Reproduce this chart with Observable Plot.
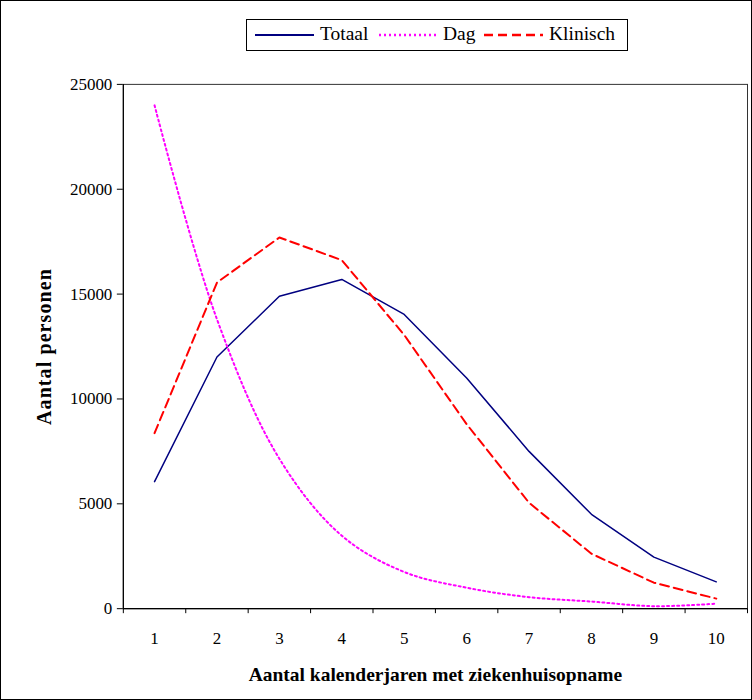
<!DOCTYPE html>
<html>
<head>
<meta charset="utf-8">
<script src="https://cdn.jsdelivr.net/npm/d3@7"></script>
<script src="https://cdn.jsdelivr.net/npm/@observablehq/plot@0.6"></script>
<style>
  html, body { margin: 0; padding: 0; background: #fff; }
  #wrap { position: relative; width: 752px; height: 700px; box-sizing: border-box; border: 1px solid #000; overflow: hidden; font-family: "Liberation Serif", "Times New Roman", serif; }
  #chart { position: absolute; left: -1px; top: -1px; }
  #legend { position: absolute; left: 245px; top: 18px; width: 382px; height: 32px; box-sizing: border-box; border: 1px solid #000; background: #fff; font-size: 19.5px; color: #000; }
  #legend .sample { position: absolute; top: 10px; display: block; }
  #legend .lbl { position: absolute; top: 2px; line-height: 24px; white-space: nowrap; }
</style>
</head>
<body>
<div id="wrap">
  <div id="chart"></div>
  <div id="legend"></div>
</div>
<script>
// Categories (x) and series values
const years = [1, 2, 3, 4, 5, 6, 7, 8, 9, 10];
const totaal = [6060, 12000, 14900, 15700, 14030, 11000, 7500, 4500, 2460, 1280];
const dag = [24000, 13800, 7150, 3480, 1750, 1000, 550, 340, 120, 240];
const klinisch = [8370, 15550, 17700, 16620, 13050, 8800, 5050, 2620, 1240, 480];
const yTicks = [0, 5000, 10000, 15000, 20000, 25000];
const seriesNames = ["Totaal", "Dag", "Klinisch"];
const xTitle = "Aantal kalenderjaren met ziekenhuisopname";
const yTitle = "Aantal personen";

const styles = {
  Totaal: {stroke: "#000080", strokeWidth: 1.5, dash: null},
  Dag: {stroke: "#ff00ff", strokeWidth: 2, dash: "2,3"},
  Klinisch: {stroke: "#ff0000", strokeWidth: 2, dash: "9,5"}
};

const toRows = (vals) => years.map((x, i) => ({x, y: vals[i]}));
const rows = {Totaal: toRows(totaal), Dag: toRows(dag), Klinisch: toRows(klinisch)};
const bandEdges = d3.range(0.5, 11, 1);

const plot = Plot.plot({
  width: 752,
  height: 700,
  marginLeft: 123,
  marginRight: 4,
  marginTop: 84,
  marginBottom: 91,
  style: {fontFamily: "Liberation Serif, Times New Roman, serif", fontSize: "17px", color: "#000", background: "transparent"},
  x: {domain: [0.5, 10.5], axis: null},
  y: {domain: [0, 25000], axis: null},
  marks: [
    Plot.frame({stroke: "#333", strokeWidth: 1}),
    Plot.axisY({ticks: yTicks, tickSize: 6, tickPadding: 5, tickFormat: d3.format("d"), fontSize: 17, label: null, stroke: "#000"}),
    Plot.axisX({ticks: bandEdges, tickSize: 5, tickFormat: () => "", label: null, stroke: "#000"}),
    Plot.axisX({ticks: years, tickSize: 0, tickPadding: 23, tickFormat: d3.format("d"), fontSize: 17, label: null}),
    Plot.ruleY([0], {stroke: "#000", strokeWidth: 1.2}),
    Plot.ruleX([0.5], {stroke: "#000", strokeWidth: 1.2}),
    Plot.line(rows.Totaal, {x: "x", y: "y", stroke: styles.Totaal.stroke, strokeWidth: styles.Totaal.strokeWidth}),
    Plot.line(rows.Dag, {x: "x", y: "y", stroke: styles.Dag.stroke, strokeWidth: styles.Dag.strokeWidth, strokeDasharray: styles.Dag.dash, curve: "catmull-rom"}),
    Plot.line(rows.Klinisch, {x: "x", y: "y", stroke: styles.Klinisch.stroke, strokeWidth: styles.Klinisch.strokeWidth, strokeDasharray: styles.Klinisch.dash}),
    Plot.text([xTitle], {frameAnchor: "bottom", dy: 66, lineAnchor: "middle", textAnchor: "middle", fontWeight: "bold", fontSize: 19.5, className: "xtitle"}),
    Plot.text([yTitle], {frameAnchor: "left", dx: -79, rotate: -90, lineAnchor: "middle", textAnchor: "middle", fontWeight: "bold", fontSize: 20, className: "ytitle"})
  ]
});
document.getElementById("chart").appendChild(plot);
d3.select(plot).selectAll(".ytitle text").style("letter-spacing", "1.1px");

// Legend
const legend = document.getElementById("legend");
const sampleLeft = [8, 132, 237];
const labelLeft = [73, 196, 302];
seriesNames.forEach((name, i) => {
  const s = styles[name];
  const svg = d3.create("svg").attr("class", "sample").attr("width", 59).attr("height", 10)
    .style("left", sampleLeft[i] + "px");
  svg.append("line").attr("x1", 0).attr("x2", 59).attr("y1", 5).attr("y2", 5)
    .attr("stroke", s.stroke).attr("stroke-width", s.strokeWidth + 0.5)
    .attr("stroke-dasharray", s.dash);
  legend.appendChild(svg.node());
  const label = document.createElement("span");
  label.className = "lbl";
  label.style.left = labelLeft[i] + "px";
  label.textContent = name;
  legend.appendChild(label);
});
</script>
</body>
</html>
